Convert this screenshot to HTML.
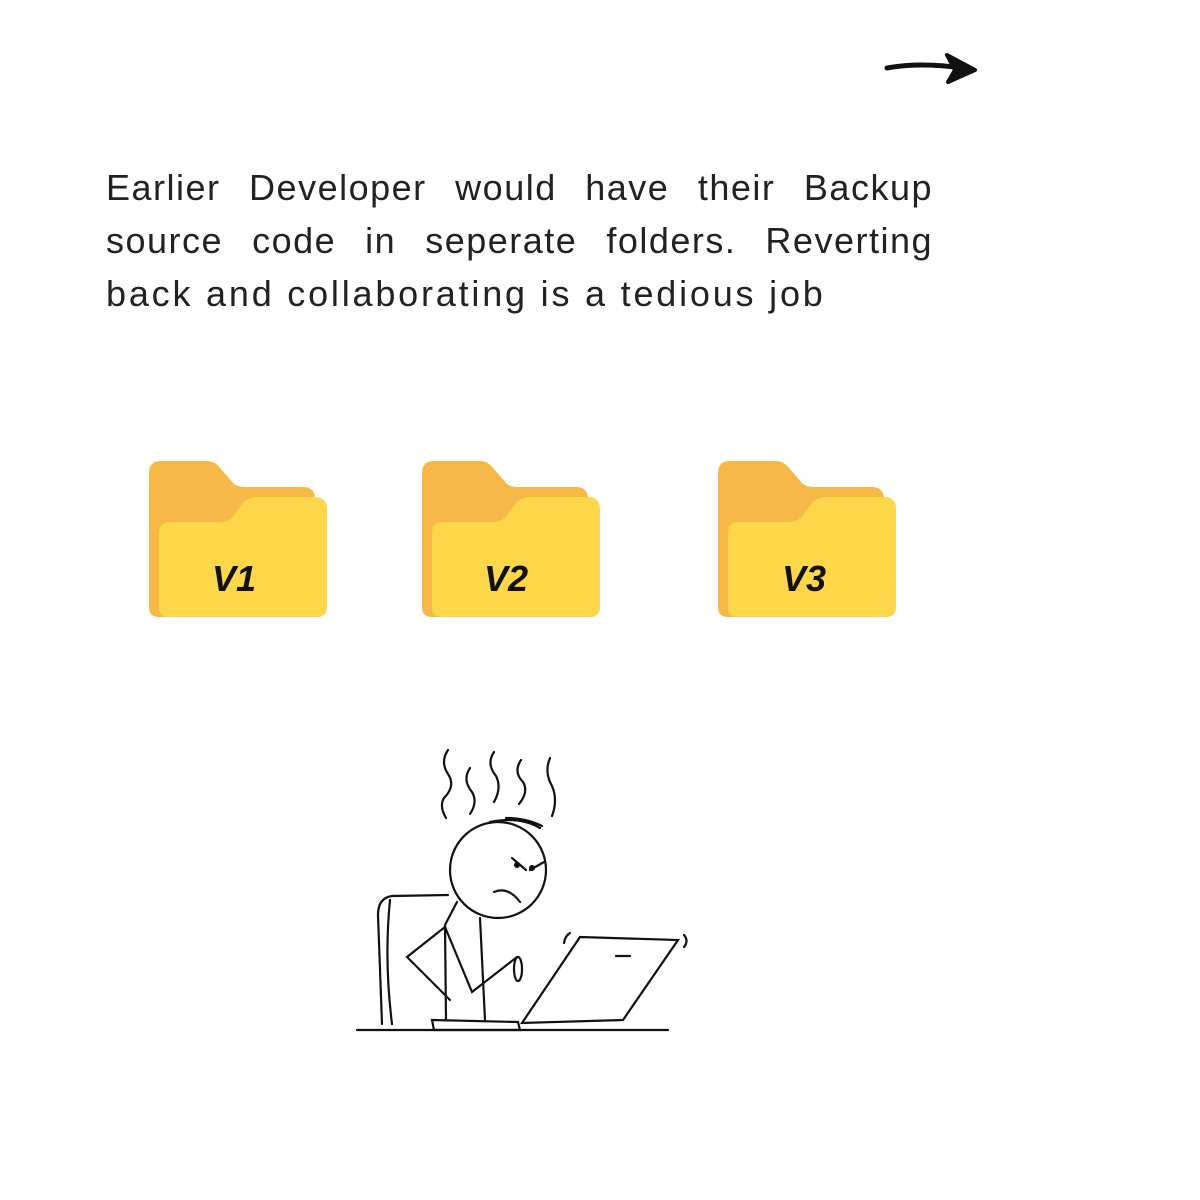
<!DOCTYPE html>
<html><head><meta charset="utf-8"><style>
html,body{margin:0;padding:0;background:#fff;}
body{width:1200px;height:1200px;position:relative;overflow:hidden;}
.l{position:absolute;left:106px;width:827px;font-family:"Liberation Sans",sans-serif;font-size:36px;line-height:40px;color:#222;letter-spacing:2.8px;white-space:nowrap;}
.j{text-align:justify;text-align-last:justify;letter-spacing:1.5px;}
svg{position:absolute;left:0;top:0;}
</style></head><body>
<svg width="1200" height="1200" viewBox="0 0 1200 1200">
<defs>
<g id="folder">
<path d="M0,12 Q0,0 12,0 L58,0 Q66,0 72,8 L84,22 Q88,26 96,26 L154,26 Q166,26 166,38 L166,146 Q166,156 156,156 L10,156 Q0,156 0,146 Z" fill="#f7b84a"/>
<path d="M10,72 Q10,61 22,61 L72,61 Q80,61 86,53 L94,42 Q100,36 108,36 L166,36 Q178,36 178,48 L178,146 Q178,156 168,156 L20,156 Q10,156 10,146 Z" fill="#fdd64a"/>
</g>
</defs>
<path d="M887,68 Q920,62 962,68" stroke="#111" stroke-width="5" fill="none" stroke-linecap="round"/>
<path d="M947,55 L975,70 L948,82 L955,70 Z" fill="#111" stroke="#111" stroke-width="4" stroke-linejoin="round"/>
<use href="#folder" x="149" y="461"/>
<use href="#folder" x="422" y="461"/>
<use href="#folder" x="718" y="461"/>
<g font-family="Liberation Sans,sans-serif" font-size="36" font-weight="bold" fill="#111" font-style="italic">
<text x="212" y="591">V1</text><text x="484" y="591">V2</text><text x="782" y="591">V3</text>
</g>
<g stroke="#111" stroke-width="2.2" fill="none" stroke-linecap="round">
<path d="M448,750 q-8,12 0,24 q8,12 -4,24 q-5,8 2,20"/>
<path d="M470,768 q-8,12 2,24 q6,10 -2,22"/>
<path d="M494,752 q-8,12 2,24 q6,12 -2,26"/>
<path d="M521,760 q-8,12 2,22 q6,10 -4,22"/>
<path d="M550,758 q-6,14 2,28 q6,14 0,30"/>
<circle cx="498" cy="870" r="48"/>
<path d="M490,822 q30,-6 50,6 M506,818 q20,0 36,8"/>
<path d="M512,858 l14,12 M530,870 l14,-8"/>
<path d="M494,892 q14,-6 26,10"/>
<path d="M457,902 L445,925 L446,1020 M480,918 L485,1020"/>
<path d="M445,927 L407,957 L450,1000"/>
<path d="M445,927 L472,992 L517,957"/>
<ellipse cx="518" cy="969" rx="4" ry="12"/>
<path d="M448,895 L392,896 Q378,898 378,915 L382,1024"/>
<path d="M390,900 Q384,960 392,1024"/>
<path d="M357,1030 L668,1030"/>
<path d="M580,937 L678,940 L623,1020 L522,1023 Z"/>
<path d="M432,1020 L518,1022 L520,1030 L434,1030 Z"/>
<path d="M616,956 l14,0"/>
<path d="M684,935 q5,6 0,12 M570,933 q-5,3 -6,10"/>
</g>
<circle cx="532" cy="868" r="3" fill="#111"/><circle cx="517" cy="865" r="3" fill="#111"/>
</svg>
<div class="l j" style="top:168px">Earlier Developer would have their Backup</div>
<div class="l j" style="top:221px">source code in seperate folders. Reverting</div>
<div class="l" style="top:274px">back and collaborating is a tedious job</div>
</body></html>
